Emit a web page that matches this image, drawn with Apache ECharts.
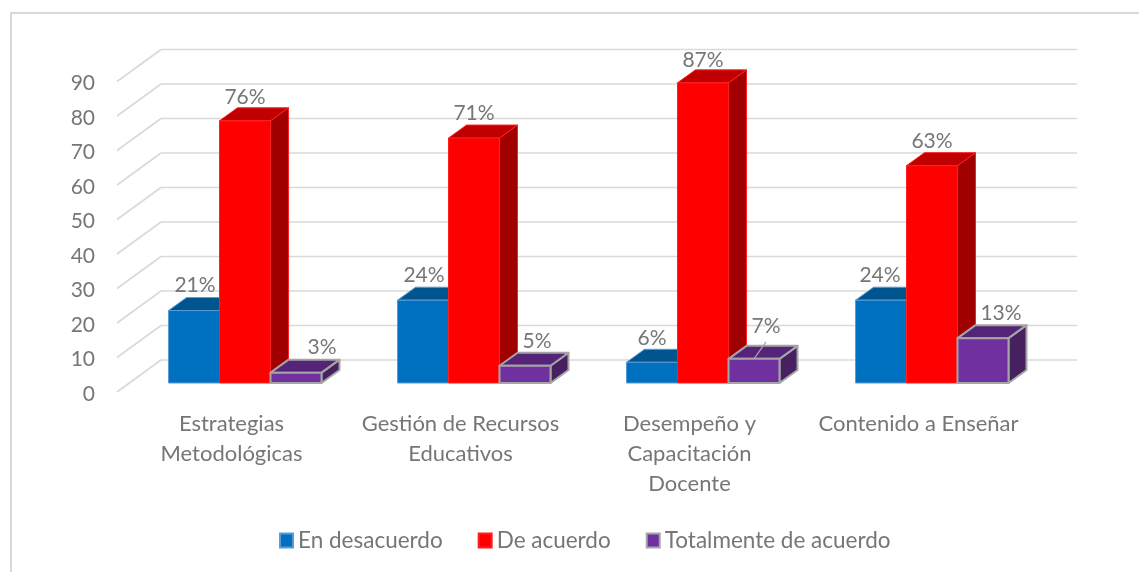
<!DOCTYPE html>
<html>
<head>
<meta charset="utf-8">
<title>Chart</title>
<script src="https://cdn.jsdelivr.net/npm/echarts@6/dist/echarts.min.js"></script>
<style>
	* {
		margin: 0;
		padding: 0;
	}
	body {
		background: #fff;
	}
</style>
</head>
<body>
<div id="main" style="width: 1139px;height: 572px;"></div>
<script>
	var categories = ['Estrategias\nMetodológicas', 'Gestión de Recursos\nEducativos', 'Desempeño y\nCapacitación\nDocente', 'Contenido a Enseñar']
	var seriesNames = ['En desacuerdo', 'De acuerdo', 'Totalmente de acuerdo']
	var enDesacuerdo = [21, 24, 6, 24]
	var deAcuerdo = [76, 71, 87, 63]
	var totalmente = [3, 5, 7, 13]
	var yTicks = [0, 10, 20, 30, 40, 50, 60, 70, 80, 90]

	// look of each series: front, top, side, border
	var looks = [
		{front: '#0070c0', top: '#00558f', side: '#004a80', border: '#5b9bd5', borderWidth: 1},
		{front: '#ff0000', top: '#c00000', side: '#a00000', border: '#ff2020', borderWidth: 1},
		{front: '#7030a0', top: '#552479', side: '#46205f', border: '#a5a5a5', borderWidth: 2}
	]
	// label offset from the top of the bar front
	var labelNudge = [
		[[1, -25], [1, -25], [0, -24], [-1, -25]],
		[[0, -24], [0, -25], [0, -23], [0, -24]],
		[[26, -25], [12, -25], [12, -33], [18, -25]]
	]
	var font = 'Lato, "Open Sans", sans-serif'
	var textColor = '#767676'
	var gridColor = '#d9d9d9'
	var wallDepth = [44, -32]
	var barDepth = [18, -13]
	var barShift = [13.5, -9]
	var barShare = 0.2227

	function drawWalls(params, api) {
		var p = api.coord([0, api.value(0)])
		var left = p[0] - api.size([1, 0])[0] / 2
		var right = left + api.size([1, 0])[0] * categories.length
		var lineStyle = {stroke: gridColor, lineWidth: 1.6}
		return {
			type: 'group',
			children: [{
				type: 'line',
				shape: {x1: left, y1: p[1], x2: left + wallDepth[0], y2: p[1] + wallDepth[1]},
				style: lineStyle
			}, {
				type: 'line',
				shape: {x1: left + wallDepth[0], y1: p[1] + wallDepth[1], x2: right + wallDepth[0], y2: p[1] + wallDepth[1]},
				style: lineStyle
			}]
		}
	}

	function makeBar(index) {
		return function(params, api) {
			var look = looks[index]
			var cat = api.value(0)
			var val = api.value(1)
			var band = api.size([1, 0])[0]
			var w = band * barShare
			var top = api.coord([cat, val])
			var base = api.coord([cat, 0])
			var x0 = top[0] + barShift[0] + (index - 1.5) * w
			var x1 = x0 + w
			var y0 = top[1] + barShift[1]
			var y1 = base[1] + barShift[1]
			var dx = barDepth[0]
			var dy = barDepth[1]
			var edge = {stroke: look.border, lineWidth: look.borderWidth, lineJoin: 'round'}
			var nudge = labelNudge[index][cat]
			var children = [{
				type: 'polygon',
				shape: {points: [[x1, y0], [x1 + dx, y0 + dy], [x1 + dx, y1 + dy], [x1, y1]]},
				style: Object.assign({fill: look.side}, edge)
			}, {
				type: 'polygon',
				shape: {points: [[x0, y0], [x0 + dx, y0 + dy], [x1 + dx, y0 + dy], [x1, y0]]},
				style: Object.assign({fill: look.top}, edge)
			}, {
				type: 'rect',
				shape: {x: x0, y: y0, width: w, height: y1 - y0},
				style: Object.assign({fill: look.front}, edge)
			}]
			// only the 7% label has a leader line
			if (nudge[1] < -30) {
				children.push({
					type: 'line',
					shape: {x1: (x0 + x1) / 2, y1: y0, x2: (x0 + x1) / 2 + nudge[0], y2: y0 + nudge[1] + 16},
					style: {stroke: '#a6a6a6', lineWidth: 1.2}
				})
			}
			children.push({
				type: 'text',
				style: {
					x: (x0 + x1) / 2 + nudge[0],
					y: y0 + nudge[1],
					text: val + '%',
					fill: textColor,
					fontSize: 21,
					fontFamily: font,
					align: 'center',
					verticalAlign: 'middle'
				}
			})
			return {type: 'group', children: children}
		}
	}

	function barSeries(index, values) {
		return {
			name: seriesNames[index],
			type: 'custom',
			renderItem: makeBar(index),
			clip: false,
			z: 3 + index,
			itemStyle: {
				color: looks[index].front,
				borderColor: looks[index].border,
				borderWidth: looks[index].borderWidth
			},
			data: values.map(function(v, i) {
				return [i, v]
			})
		}
	}

	var chart = echarts.init(document.getElementById('main'))
	chart.setOption({
		backgroundColor: '#fff',
		animation: false,
		grid: {left: 117, right: 106, top: 81.5, bottom: 180},
		legend: {
			left: 274,
			top: 524,
			itemWidth: 13,
			itemHeight: 14,
			itemGap: 35,
			icon: 'rect',
			textStyle: {color: textColor, fontSize: 22.5, fontFamily: font},
			data: seriesNames
		},
		xAxis: {
			type: 'category',
			data: categories,
			axisLine: {show: false},
			axisTick: {show: false},
			axisLabel: {
				interval: 0,
				margin: 17,
				color: textColor,
				fontSize: 22,
				lineHeight: 30,
				fontFamily: font,
				verticalAlign: 'top'
			}
		},
		yAxis: {
			type: 'value',
			min: 0,
			max: 90,
			interval: 10,
			axisLine: {show: false},
			axisTick: {show: false},
			splitLine: {show: false},
			axisLabel: {
				margin: 22,
				formatter: '{n|{value}}',
				rich: {
					n: {color: textColor, fontSize: 21, fontFamily: font, padding: [4, 0, 0, 0]}
				}
			}
		},
		graphic: [
			{type: 'line', shape: {x1: 11, y1: 13, x2: 1139, y2: 13}, style: {stroke: gridColor, lineWidth: 2}},
			{type: 'line', shape: {x1: 11, y1: 12, x2: 11, y2: 572}, style: {stroke: gridColor, lineWidth: 2}}
		],
		series: [{
			type: 'custom',
			renderItem: drawWalls,
			clip: false,
			silent: true,
			z: 1,
			data: yTicks.map(function(v) {
				return [v]
			}),
			encode: {y: 0}
		},
			barSeries(0, enDesacuerdo),
			barSeries(1, deAcuerdo),
			barSeries(2, totalmente)
		]
	})
</script>
</body>
</html>
